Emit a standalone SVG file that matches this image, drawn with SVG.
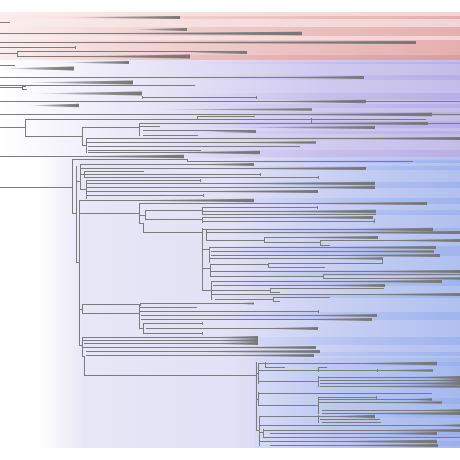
<svg xmlns="http://www.w3.org/2000/svg" width="460" height="460" viewBox="0 0 460 460">
<style>
.e{fill:none;stroke:#7c7c7c;stroke-width:1}
.w{fill:url(#wg)}
</style>
<defs>
<linearGradient id="wg" x1="0" y1="0" x2="1" y2="0"><stop offset="0" stop-color="#7a7a7a" stop-opacity="0"/><stop offset="0.5" stop-color="#7a7a7a" stop-opacity="0.7"/><stop offset="1" stop-color="#777777" stop-opacity="1"/></linearGradient>
<linearGradient id="gr" x1="0" y1="0" x2="1" y2="0"><stop offset="0" stop-color="#fbeeee"/><stop offset="0.3" stop-color="#f7e2e2"/><stop offset="1" stop-color="#f2d4d4"/></linearGradient>
<linearGradient id="gp" x1="0" y1="0" x2="1" y2="0"><stop offset="0" stop-color="#ffffff"/><stop offset="0.1" stop-color="#f8f7fc"/><stop offset="0.35" stop-color="#e6e3f6"/><stop offset="0.7" stop-color="#d0caf0"/><stop offset="1" stop-color="#c4bdea"/></linearGradient>
<linearGradient id="gb" x1="0" y1="0" x2="1" y2="0"><stop offset="0" stop-color="#ffffff"/><stop offset="0.08" stop-color="#ffffff"/><stop offset="0.13" stop-color="#f5f4fb"/><stop offset="0.18" stop-color="#e8e7f7"/><stop offset="0.5" stop-color="#e2e1f5"/><stop offset="0.75" stop-color="#c6cef3"/><stop offset="1" stop-color="#b0c0ef"/></linearGradient>
<linearGradient id="gbr" x1="0" y1="0" x2="1" y2="0"><stop offset="0" stop-color="#d6daf5"/><stop offset="0.4" stop-color="#bcc8f2"/><stop offset="1" stop-color="#a6b9ee"/></linearGradient>
<linearGradient id="sr" x1="0" y1="0" x2="1" y2="0"><stop offset="0" stop-color="#d88a8a" stop-opacity="0"/><stop offset="0.2" stop-color="#d88a8a" stop-opacity="0.1"/><stop offset="1" stop-color="#d88a8a" stop-opacity="0.5"/></linearGradient>
<linearGradient id="sp" x1="0" y1="0" x2="1" y2="0"><stop offset="0" stop-color="#a89ee0" stop-opacity="0"/><stop offset="0.4" stop-color="#a89ee0" stop-opacity="0"/><stop offset="1" stop-color="#a89ee0" stop-opacity="0.45"/></linearGradient>
<linearGradient id="sb" x1="0" y1="0" x2="1" y2="0"><stop offset="0" stop-color="#90a8e8" stop-opacity="0"/><stop offset="0.45" stop-color="#90a8e8" stop-opacity="0"/><stop offset="1" stop-color="#90a8e8" stop-opacity="0.5"/></linearGradient>
</defs>
<rect width="460" height="460" fill="#ffffff"/>
<g id="background">
<rect x="0" y="12" width="460" height="48" fill="url(#gr)"/>
<rect x="0" y="60" width="460" height="98" fill="url(#gp)"/>
<rect x="0" y="158" width="460" height="290" fill="url(#gb)"/>
<rect x="255" y="358" width="205" height="90" fill="url(#gbr)"/>
<g fill="url(#sr)">
<rect x="0" y="16" width="460" height="3"/><rect x="0" y="27" width="460" height="9"/><rect x="0" y="40" width="460" height="12"/><rect x="0" y="52" width="460" height="8"/><rect x="0" y="55" width="460" height="5"/>
</g>
<g fill="url(#sp)">
<rect x="0" y="62" width="460" height="2"/><rect x="0" y="75" width="460" height="5"/><rect x="0" y="93" width="460" height="7"/><rect x="0" y="104" width="460" height="4"/><rect x="0" y="112" width="460" height="4"/><rect x="0" y="121" width="460" height="7"/><rect x="0" y="131" width="460" height="3"/><rect x="0" y="137" width="460" height="3"/><rect x="0" y="150" width="460" height="7"/>
</g>
<g fill="url(#sb)">
<rect x="0" y="160" width="460" height="3"/><rect x="0" y="166" width="460" height="4"/><rect x="0" y="182" width="460" height="6"/><rect x="0" y="198" width="460" height="6"/><rect x="0" y="210" width="460" height="5"/><rect x="0" y="228" width="460" height="6"/><rect x="0" y="246" width="460" height="10"/><rect x="0" y="270" width="460" height="6"/><rect x="0" y="280" width="460" height="6"/><rect x="0" y="294" width="460" height="4"/><rect x="0" y="312" width="460" height="8"/><rect x="0" y="337" width="460" height="8"/><rect x="0" y="352" width="460" height="4"/><rect x="255" y="362" width="205" height="4"/><rect x="255" y="376" width="205" height="10"/><rect x="255" y="398" width="205" height="6"/><rect x="255" y="412" width="205" height="6"/><rect x="255" y="430" width="205" height="8"/><rect x="255" y="441" width="205" height="5"/>
</g>
</g>
<g id="connectors">
<path class="e" d="M0 22.5H10M0 33.5H302M0 42.5H416M0 47.5H75M75.5 46V49M0 53.5H17.5M17.5 51V57M17.5 51.5H247M17.5 56.5H190"/>
<path class="e" d="M0 65.5H15M0 77.5H364M0 85.5H195M0 87.5H22M22.5 86V90M22 86.5H26M22 89.5H27M142.5 96V99M142 97.5H256M256.5 96V99M0 101.5H460M0 114.5H460M0 127.5H25M25.5 119V137M25 119.5H311M311.5 118V124M311 119.5H426M311 123.5H428M197.5 116V120M197 116.5H255M25 136.5H82M82.5 127V146M82 127.5H139M139.5 123V136M139 123.5H460M139 126.5H160M143 130.5H256M143 135.5H198M82 145.5H86M86.5 138V153M86 138.5H460M86 142.5H316M88 146.5H300M88 150.5H201M88 152.5H260M0 156.5H184"/>
<path class="e" d="M0 187.5H72M72.5 159V214M72 159.5H187M187.5 159V162M187 161.5H413M72 213.5H76M76.5 166V263M76 181.5H80M80.5 164V190M80 164.5H254M80 168.5H366M80 174.5H84M84.5 171V178M84 171.5H144M84 174.5H260M260.5 173V176M84 177.5H318M318.5 176V179M80 189.5H86M86.5 180V199M86 180.5H200M200.5 179V182M86 183.5H375M86 187.5H375M86 191.5H318M86 195.5H203M203.5 194V197M79 200.5H254M76 262.5H79M79.5 200V346"/>
<path class="e" d="M79 213.5H139M139.5 203V224M139 203.5H427M139 215.5H145M145.5 210V220M145 210.5H202M202.5 207V215M202 207.5H317M317.5 206V209M202 211.5H376M202 214.5H376M145 219.5H202M202.5 217V223M202 217.5H373M202 221.5H374M374.5 219V223M139 223.5H143M143.5 223V233M143 232.5H202M202.5 228V291M202 229.5H206M206.5 229V241M206 229.5H433M206 232.5H460M206 240.5H264M264.5 237V243M264 237.5H378M264 242.5H320M320.5 240V246M320 240.5H460M320 245.5H330M202 249.5H209M209.5 247V263M209 247.5H436M211 251.5H434M211 255.5H440M209 258.5H383M382.5 258V264M202 268.5H210M210.5 264V277M210 264.5H268M268.5 263V268M268 263.5H382M268 267.5H325M210 271.5H460M210 276.5H323M323.5 274V279M323 274.5H460M323 278.5H460M202 290.5H211M211.5 281V300M211 281.5H442M213 285.5H385M211 290.5H270M270.5 288V293M270 288.5H384M270 292.5H280M211 294.5H460M215 299.5H273M273.5 297V302M273 297.5H330M273 301.5H280"/>
<path class="e" d="M79 309.5H82M82.5 304V314M82 304.5H140M140.5 303V306M140 303.5H254M82 313.5H139M139.5 305V329M139 307.5H197M139 311.5H318M318.5 310V313M141 315.5H377M141 319.5H372M139 328.5H143M143.5 323V334M143 323.5H202M202.5 322V325M146 328.5H318M143 333.5H202M202.5 332V335M79 345.5H82M82.5 337V357M82 337.5H258M82 340.5H258M84 343.5H258M82 347.5H316M86 351.5H320M86 355.5H314M82 356.5H84M84.5 356V376M84 375.5H256"/>
<path class="e" d="M256.5 362V431M256 373.5H258M258.5 363V384M258 363.5H265M265.5 362V368M265 363.5H437M265 367.5H285M258 370.5H318M318.5 367V372M318 367.5H327M318 370.5H433M377.5 369V372M258 381.5H318M318.5 376V387M318 377.5H460M320 380.5H460M320 383.5H460M320 386.5H460M256 399.5H258M258.5 392V406M258 393.5H432M258 405.5H318M318.5 397V414M318 397.5H376M376.5 396V399M318 399.5H432M318 402.5H442M322 410.5H460M322 413.5H460M256 430.5H259M259.5 416V446M259 416.5H318M318.5 415V423M318 416.5H375M320 419.5H380M322 422.5H381M259 425.5H460M259 432.5H263M263.5 429V438M263 430.5H460M270 433.5H437M263 437.5H460M259 441.5H437M270 445.5H438"/>
</g>
<g id="clade-red" class="w">
<polygon points="65,17.5 180,16 180,19"/>
<polygon points="130,29.5 187,28 187,31"/>
<polygon points="40,33.5 302,31.8 302,35.2"/>
<polygon points="0,42.5 416,41 416,44"/>
<polygon points="180,52.5 247,51 247,54"/>
<polygon points="60,56.5 190,54.5 190,58.5"/>
</g>
<g id="clade-purple" class="w">
<polygon points="60,62.5 129,61 129,64"/>
<polygon points="0,68.5 74,66.5 74,70.5"/>
<polygon points="250,77.5 364,76 364,79"/>
<polygon points="20,82.5 133,80.5 133,84.5"/>
<polygon points="30,93.5 142,91.5 142,95.5"/>
<polygon points="250,101.5 366,99.8 366,103.2"/>
<polygon points="25,105.5 79,103.8 79,107.2"/>
<polygon points="150,109.5 312,108.2 312,110.8"/>
<polygon points="240,114.5 432,112.8 432,116.2"/>
<polygon points="250,123.5 428,122 428,125"/>
<polygon points="230,127.5 375,126 375,129"/>
<polygon points="200,131.5 256,130 256,133"/>
<polygon points="300,138.5 460,137 460,140"/>
<polygon points="200,142.5 316,141.2 316,143.8"/>
<polygon points="150,152.5 260,150.8 260,154.2"/>
<polygon points="50,156.5 184,154.8 184,158.2"/>
</g>
<g id="clade-blue" class="w">
<polygon points="180,164.5 254,163 254,166"/>
<polygon points="190,168.5 366,167 366,170"/>
<polygon points="200,183.5 375,181.8 375,185.2"/>
<polygon points="260,187.5 375,186 375,189"/>
<polygon points="150,191.5 318,190 318,193"/>
<polygon points="100,200.5 254,198.8 254,202.2"/>
<polygon points="253,203.5 427,202 427,205"/>
<polygon points="250,211.5 376,209.8 376,213.2"/>
<polygon points="250,217.5 373,216 373,219"/>
<polygon points="320,229.5 433,227.8 433,231.2"/>
<polygon points="270,232.5 460,231 460,234"/>
<polygon points="270,237.5 378,236 378,239"/>
<polygon points="360,240.5 460,239 460,242"/>
<polygon points="280,247.5 436,246 436,249"/>
<polygon points="300,251.5 434,250.2 434,252.8"/>
<polygon points="290,255.5 440,254 440,257"/>
<polygon points="300,258.5 383,257.2 383,259.8"/>
<polygon points="330,271.5 460,270 460,273"/>
<polygon points="350,278.5 460,277.2 460,279.8"/>
<polygon points="300,281.5 442,280 442,283"/>
<polygon points="300,285.5 385,284 385,287"/>
<polygon points="330,294.5 460,293 460,296"/>
<polygon points="230,303.5 254,302.5 254,304.5"/>
<polygon points="280,315.5 377,314 377,317"/>
<polygon points="280,319.5 372,318 372,321"/>
<polygon points="250,328.5 318,327 318,330"/>
<polygon points="200,337.5 258,336 258,339"/>
<polygon points="200,340.5 258,339 258,342"/>
<polygon points="200,343.5 258,342 258,345"/>
<polygon points="200,347.5 316,346 316,349"/>
<polygon points="150,351.5 320,350 320,353"/>
<polygon points="200,355.5 314,354 314,357"/>
</g>
<g id="clade-blue-lower" class="w">
<polygon points="330,363.5 437,361.8 437,365.2"/>
<polygon points="360,370.5 433,369.2 433,371.8"/>
<polygon points="400,377.5 460,376 460,379"/>
<polygon points="420,380.5 460,379 460,382"/>
<polygon points="380,383.5 460,382 460,385"/>
<polygon points="320,386.5 460,385.2 460,387.8"/>
<polygon points="400,399.5 432,398.2 432,400.8"/>
<polygon points="380,402.5 442,401.2 442,403.8"/>
<polygon points="400,410.5 460,409.2 460,411.8"/>
<polygon points="330,413.5 460,412 460,415"/>
<polygon points="320,416.5 375,414.8 375,418.2"/>
<polygon points="420,425.5 460,424.2 460,426.8"/>
<polygon points="350,430.5 460,429 460,432"/>
<polygon points="360,433.5 437,432 437,435"/>
<polygon points="300,441.5 437,439.8 437,443.2"/>
<polygon points="300,445.5 438,444 438,447"/>
</g>
</svg>
